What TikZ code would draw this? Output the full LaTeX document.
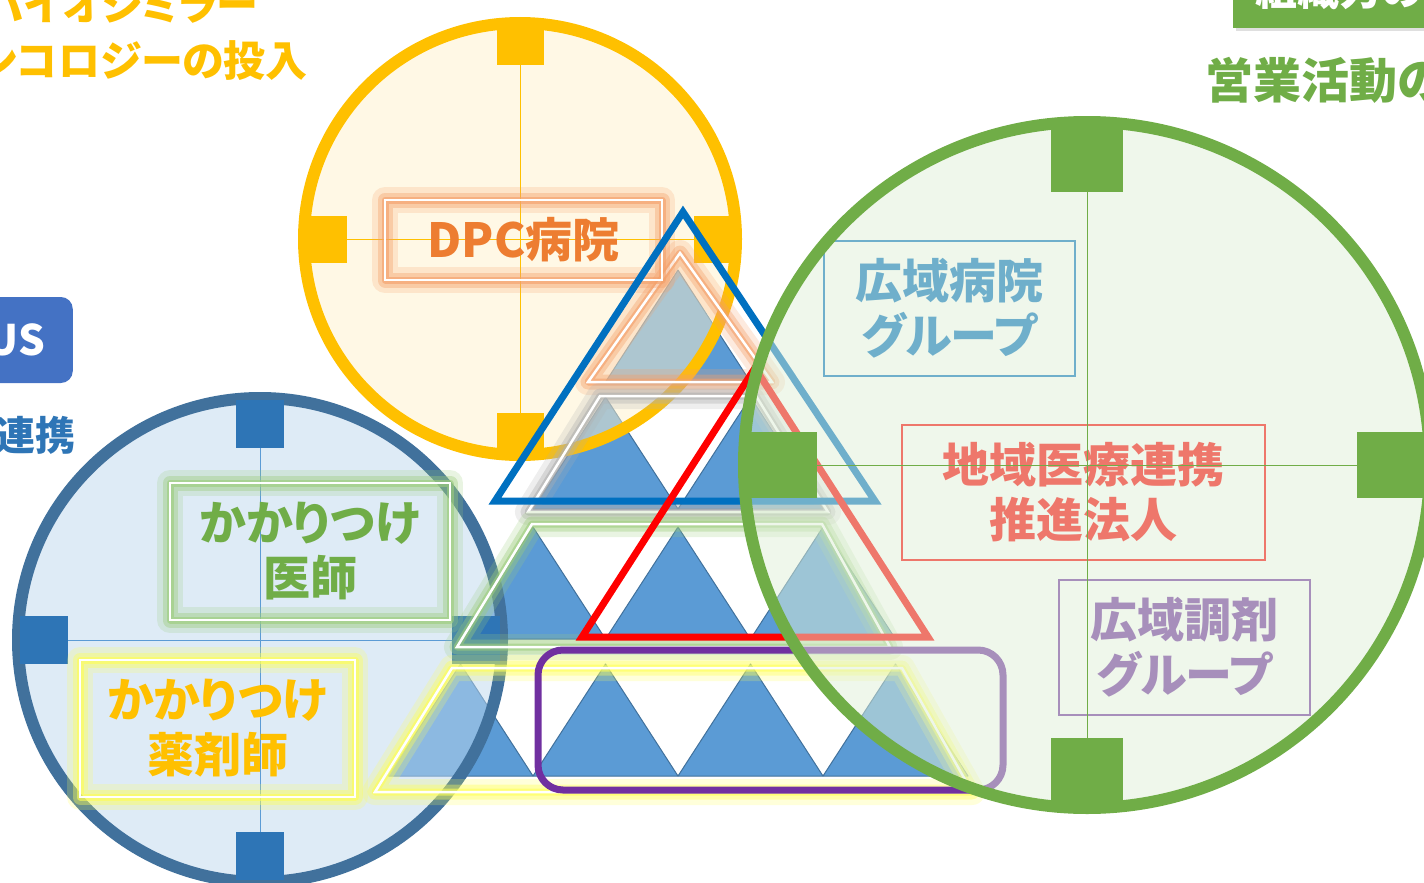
\documentclass[tikz,border=0pt]{standalone}
\usepackage{fontspec}
\setmainfont{Noto Sans CJK JP}[RawFeature=+palt]
\usetikzlibrary{positioning,shadows}

\definecolor{yel}{HTML}{FFC000}
\definecolor{yelfill}{HTML}{FFF2CC}
\definecolor{bluline}{HTML}{41719C}
\definecolor{blusq}{HTML}{2E75B6}
\definecolor{blufill}{HTML}{BDD7EE}
\definecolor{grn}{HTML}{70AD47}
\definecolor{grnfill}{HTML}{DFEFD7}
\definecolor{tri}{HTML}{5B9BD5}
\definecolor{hosp}{HTML}{0070C0}
\definecolor{regio}{HTML}{FF0000}
\definecolor{pharm}{HTML}{7030A0}
\definecolor{dpccol}{HTML}{ED7D31}
\definecolor{gorange}{HTML}{F4A06A}
\definecolor{ggreen}{HTML}{9CCC7C}
\definecolor{gyellow}{HTML}{FFFF55}
\definecolor{ggray}{HTML}{B0B0B0}
\definecolor{usblue}{HTML}{4472C4}
\definecolor{linkblue}{HTML}{2E75B6}

\tikzset{
  glowline/.style={preaction={draw=#1,draw opacity=.22,line width=26pt,line join=round},
    preaction={draw=#1,draw opacity=.38,line width=15pt,line join=round},
    preaction={draw=#1,draw opacity=.6,line width=7pt,line join=round},
    draw=white, line width=2.5pt},
  trifill/.style={fill=tri, draw=bluline, line width=1pt, line join=round},
}

\begin{document}
\begin{tikzpicture}[x=1pt, y=-1pt,
    lbl/.style={font=\fontsize{47pt}{55pt}\selectfont\bfseries, align=center, inner sep=0pt},
    head/.style={font=\fontsize{42pt}{50pt}\selectfont\bfseries, inner sep=0pt},
    ysq/.style={fill=yel, minimum size=47pt, inner sep=0pt},
    bsq/.style={fill=blusq, minimum size=48pt, inner sep=0pt},
    gsq/.style={fill=grn, minimum width=72pt, minimum height=66pt, inner sep=0pt}]
  \useasboundingbox (0,0) rectangle (1424,883);
  \clip (0,0) rectangle (1424,883);

  % texts at the edges
  \node[head, text=yel, anchor=east] (bio1) at (258,4) {バイオシミラー};
  \node[head, text=yel, anchor=east] (bio2) at (308,61) {オンコロジーの投入};
  \node[head, fill=grn, text=white, anchor=south west, minimum width=212pt, minimum height=76pt,
    drop shadow={opacity=.25}] (orgbox) at (1233,28) {組織力の};
  \node[head, font=\fontsize{48pt}{56pt}\selectfont\bfseries, text=grn, anchor=west] (sales) at (1205,80) {営業活動の};
  \node[head, fill=usblue, text=white, rounded corners=12pt, minimum height=86pt, inner xsep=28pt,
    anchor=east] (usbox) at (73,340) {US};
  \node[head, font=\fontsize{40pt}{48pt}\selectfont\bfseries, text=linkblue, anchor=east] (link) at (76,435) {連携};

  % pyramid of triangles
  \foreach \r/\y in {1/270,2/397,3/527,4/664}
    \foreach \k in {1,...,\r}
      \draw[trifill] ({678+(\k-(\r+1)/2)*145},\y) -- ++(72.5,112) -- ++(-145,0) -- cycle;

  % yellow circle
  \coordinate (yc) at (520,239);
  \fill[yelfill, fill opacity=.5] (yc) circle[radius=216];
  \draw[yel, line width=.8pt] (yc) ++(-216,0) -- ++(432,0) (yc) ++(0,-216) -- ++(0,432);
  \draw[yel, line width=12pt] (yc) circle[radius=216];
  \foreach \a in {0,90,180,270}
    \node[ysq] (ysq\a) at ([shift={(\a:197)}]yc) {};

  % blue circle
  \coordinate (bc) at (260,640);
  \fill[blufill, fill opacity=.5] (bc) circle[radius=242];
  \draw[tri, line width=.8pt] (bc) ++(-242,0) -- ++(484,0) (bc) ++(0,-242) -- ++(0,484);
  \draw[bluline, line width=12pt] (bc) circle[radius=242];
  \foreach \a in {0,90,180,270}
    \node[bsq] (bsq\a) at ([shift={(\a:216)}]bc) {};

  % glowing rows
  \draw[glowline=gorange] (680,253) -- (772,382) -- (588,382) -- cycle;
  \draw[glowline=ggray] (600,396) -- (756,396) -- (828,512) -- (528,512) -- cycle;
  \draw[glowline=ggreen] (532,524) -- (822,524) -- (890,647) -- (457,647) -- cycle;
  \draw[glowline=gyellow] (452,668) -- (902,668) -- (972,792) -- (375,792) -- cycle;

  \node[lbl, glowline=gorange, text=dpccol, minimum width=277pt, minimum height=80pt] (dpc) at (523.5,240) {DPC病院};
  \node[lbl, glowline=ggreen, text=grn, minimum width=280pt, minimum height=137pt] (doctor) at (310,551.5) {かかりつけ\\医師};
  \node[lbl, glowline=gyellow, text=yel, minimum width=275pt, minimum height=137pt] (pharmacist) at (217.5,728.5) {かかりつけ\\薬剤師};

  % outlines
  \draw[hosp, line width=7pt] (683,212) -- (875,501) -- (495,501) -- cycle;
  \draw[regio, line width=7pt] (755,368) -- (928,637) -- (582,637) -- cycle;
  \draw[pharm, line width=7pt, rounded corners=25pt] (538,650) rectangle (1003,790);

  \node[lbl, draw=hosp, text=hosp, line width=1.3pt, minimum width=251pt, minimum height=135pt] (hospgrp) at (949.5,308.5) {広域病院\\グループ};
  \node[lbl, draw=regio, text=regio, line width=1.3pt, minimum width=363pt, minimum height=135pt] (regional) at (1083.5,492.5) {地域医療連携\\推進法人};
  \node[lbl, draw=pharm, text=pharm, line width=1.3pt, minimum width=251pt, minimum height=135pt] (pharmgrp) at (1184.5,647.5) {広域調剤\\グループ};

  % green circle
  \coordinate (gc) at (1087,465);
  \fill[grnfill, fill opacity=.5] (gc) circle[radius=343];
  \draw[grn, line width=.8pt] (gc) ++(-343,0) -- ++(686,0) (gc) ++(0,-343) -- ++(0,686);
  \draw[grn, line width=12pt] (gc) circle[radius=343];
  \foreach \a in {0,90,180,270}
    \node[gsq] (gsq\a) at ([shift={(\a:306)}]gc) {};
\end{tikzpicture}
\end{document}
